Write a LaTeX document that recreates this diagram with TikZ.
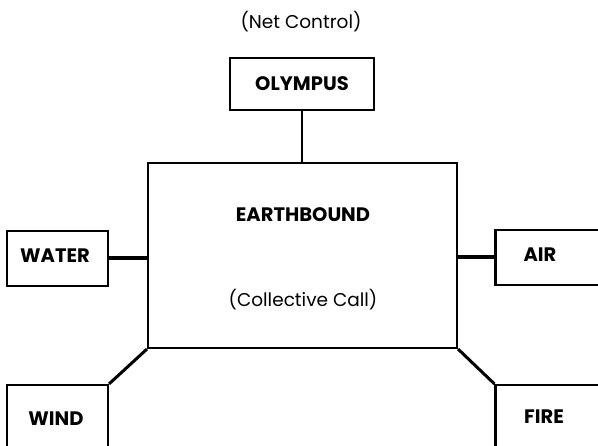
\documentclass[tikz,border=0pt]{standalone}
\usepackage{fontspec}
\setmainfont{Poppins}
\begin{document}
\begin{tikzpicture}[x=1pt,y=-1pt,
  box/.style={draw=black, line width=2.2pt, fill=white, inner sep=0pt},
  title/.style={font=\fontsize{19.5}{22}\selectfont\bfseries},
  note/.style={font=\fontsize{18.5}{22}\selectfont},
  link/.style={draw=black, line width=3pt}
]
\useasboundingbox (0,0) rectangle (598,446);
\node[box, minimum width=144pt, minimum height=52pt] (olympus) at (302,84) {};
\node[box, minimum width=309pt, minimum height=185pt] (earth) at (302.5,255.5) {};
\node[box, minimum width=101pt, minimum height=55pt] (water) at (57.5,258.5) {};
\node[box, minimum width=107pt, minimum height=55pt] (air) at (549,257.5) {};
\node[box, minimum width=101pt, minimum height=66pt] (wind) at (57.5,418) {};
\node[box, minimum width=107pt, minimum height=66pt] (fire) at (549,418) {};

\draw[link, line width=2.6pt] (olympus.south) -- (olympus.south |- earth.north);
\draw[link, line width=4pt] (water.east) -- (water.east -| earth.west);
\draw[link, line width=4pt] (air.west) -- (air.west -| earth.east);
\draw[link] (earth.south west) -- (wind.north east);
\draw[link] (earth.south east) -- (fire.north west);

\node[note] (netctl) at (301,22) {(Net Control)};
\node[title] (olympustxt) at (olympus.center) {OLYMPUS};
\node[title] (earthtxt) at (303,215) {EARTHBOUND};
\node[note] (calltxt) at (303,300) {(Collective Call)};
\node[title] (watertxt) at (55,256) {WATER};
\node[title] (airtxt) at (540,255) {AIR};
\node[title] (windtxt) at (56,419) {WIND};
\node[title] (firetxt) at (544,417) {FIRE};
\end{tikzpicture}
\end{document}
